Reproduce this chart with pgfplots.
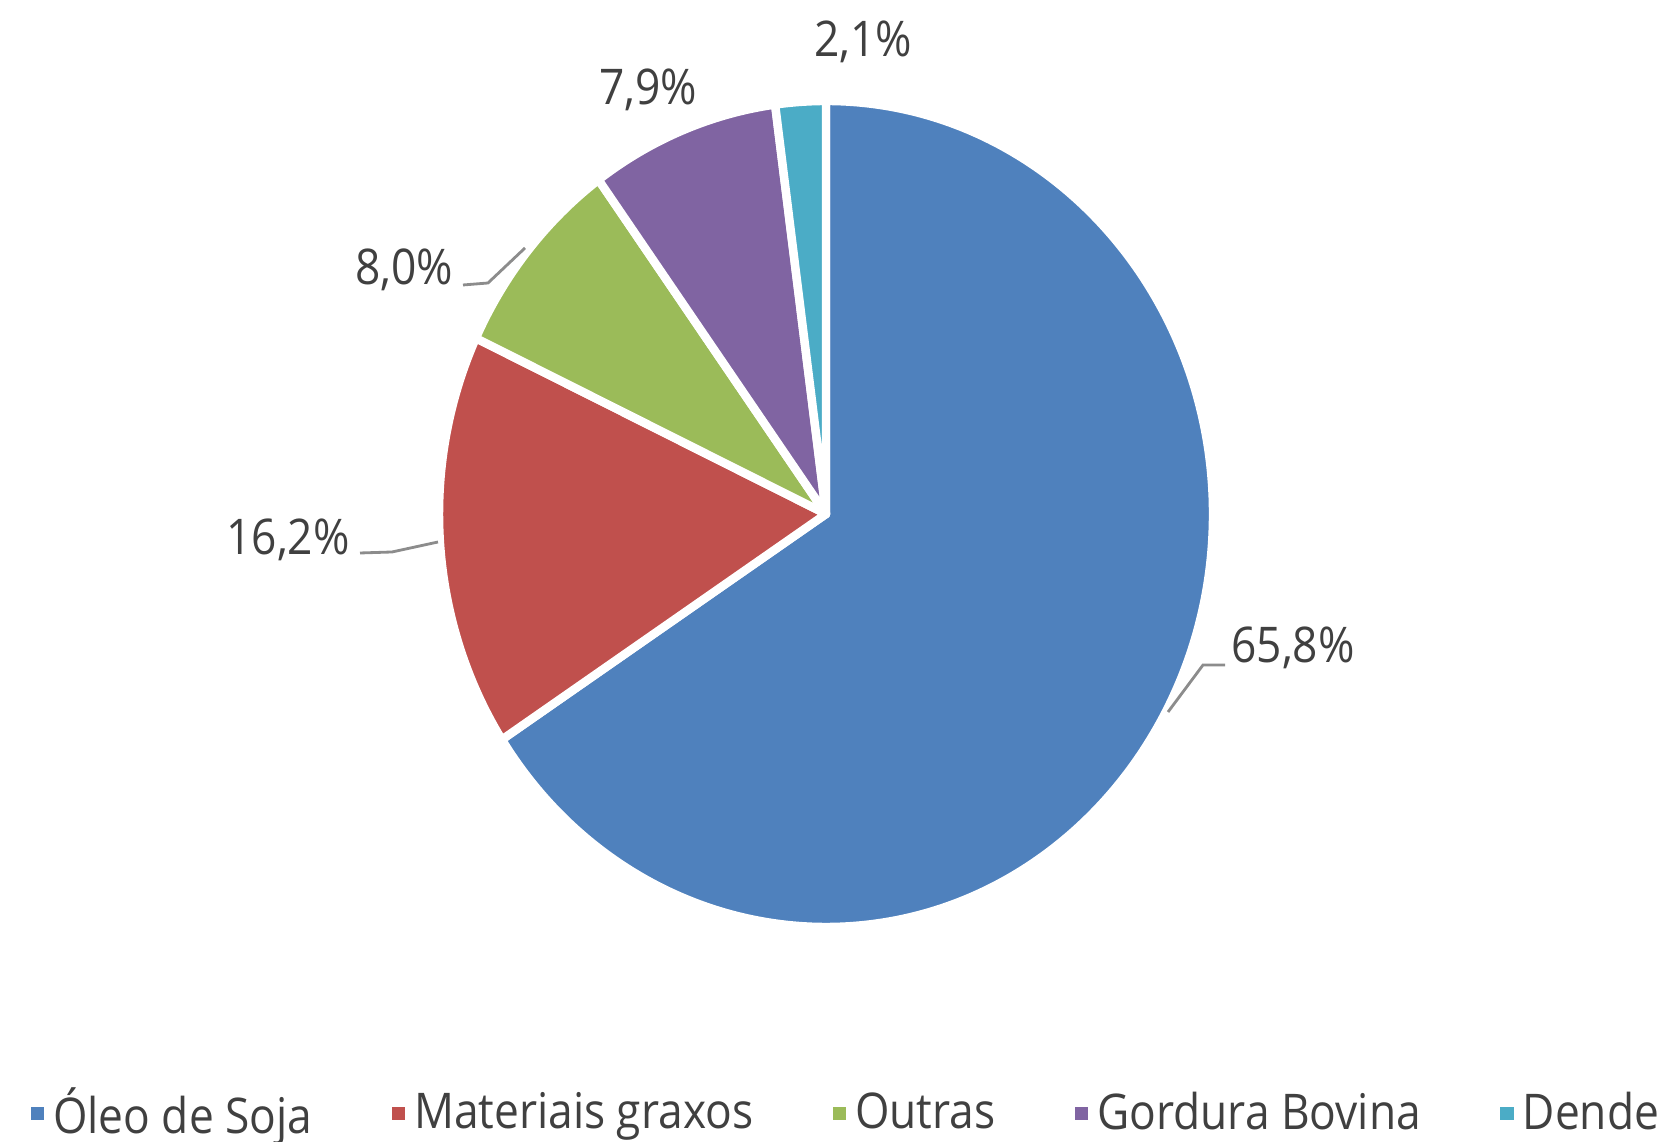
\documentclass[border=0pt]{standalone}
\usepackage{fontspec}
\setmainfont{Open Sans}[FakeStretch=0.9]
\usepackage{pgfplots}
\usepackage{pgfplotstable}
\pgfplotsset{compat=1.18}

\definecolor{soja}{HTML}{4F81BD}
\definecolor{graxos}{HTML}{C0504D}
\definecolor{outras}{HTML}{9BBB59}
\definecolor{bovina}{HTML}{8064A2}
\definecolor{dende}{HTML}{4BACC6}
\definecolor{txt}{HTML}{404040}
\definecolor{leader}{HTML}{8C8C8C}

% share (%), slice colour, label centre in px (from top left)
\pgfplotstableread[col sep=comma]{
name,value,col,lx,ly
Óleo de Soja,65.8,soja,1293,648
Materiais graxos,16.2,graxos,288,540
Outras,8.0,outras,404,270
Gordura Bovina,7.9,bovina,648,90
Dende,2.1,dende,863,42
}\piedata

\begin{document}
\begin{tikzpicture}[font=\fontsize{14}{17}\selectfont]
\useasboundingbox (0,0) rectangle (16.61cm,11.41cm);
\clip (0,0) rectangle (16.61cm,11.41cm);
\begin{axis}[
  at={(0,0)}, anchor=south west,
  scale only axis,
  width=16.61cm, height=11.41cm,
  xmin=0, xmax=1661, ymin=0, ymax=1141,
  hide axis, clip=false,
  legend columns=-1,
  legend image code/.code={\fill[#1] (0pt,-1.7pt) rectangle (3.4pt,1.7pt);
    \path[draw=none] (0pt,0pt) -- (4.2pt,0pt);},
  legend style={at={(0.018,-0.011)}, anchor=south west, draw=none, fill=none,
    font=\fontsize{14}{17}\selectfont, text=txt, inner xsep=0pt, inner ysep=2pt,
    /tikz/every even column/.append style={column sep=20.6pt}},
]
\addlegendimage{soja}   \addlegendentry{Óleo de Soja}
\addlegendimage{graxos} \addlegendentry{Materiais graxos}
\addlegendimage{outras} \addlegendentry{Outras}
\addlegendimage{bovina} \addlegendentry{Gordura Bovina}
\addlegendimage{dende}  \addlegendentry{Dende}

\pgfplotsextra{
  \gdef\cum{0}
  \pgfplotstablegetrowsof{\piedata}
  \pgfmathtruncatemacro\nrows{\pgfplotsretval-1}
  \foreach \i in {0,...,\nrows}{
    \pgfplotstablegetelem{\i}{value}\of\piedata \let\sv\pgfplotsretval
    \pgfplotstablegetelem{\i}{col}\of\piedata \let\scol\pgfplotsretval
    \pgfplotstablegetelem{\i}{lx}\of\piedata \let\lx\pgfplotsretval
    \pgfplotstablegetelem{\i}{ly}\of\piedata \let\ly\pgfplotsretval
    \pgfmathsetmacro\sa{90-3.6*\cum}
    \pgfmathsetmacro\sb{90-3.6*(\cum+\sv)}
    \filldraw[fill=\scol, draw=white, line width=2.4pt, line join=round]
      (axis cs:826,627) -- ++(\sa:3.87cm and 4.13cm)
      arc[start angle=\sa, end angle=\sb, x radius=3.87cm, y radius=4.13cm] -- cycle;
    \node[text=txt] at (axis cs:\lx,{1141-\ly})
      {\pgfmathprintnumber[fixed, fixed zerofill, precision=1, use comma,
        assume math mode=true]{\sv}\%};
    \pgfmathsetmacro\newcum{\cum+\sv}
    \global\let\cum\newcum
  }
}
% leader lines
\draw[leader, line width=0.8pt] (axis cs:1168,429) -- (axis cs:1203,476) -- (axis cs:1225,476);
\draw[leader, line width=0.8pt] (axis cs:360,588) -- (axis cs:392,589) -- (axis cs:438,599);
\draw[leader, line width=0.8pt] (axis cs:463,856) -- (axis cs:488,858) -- (axis cs:525,893);
\end{axis}
\end{tikzpicture}
\end{document}
